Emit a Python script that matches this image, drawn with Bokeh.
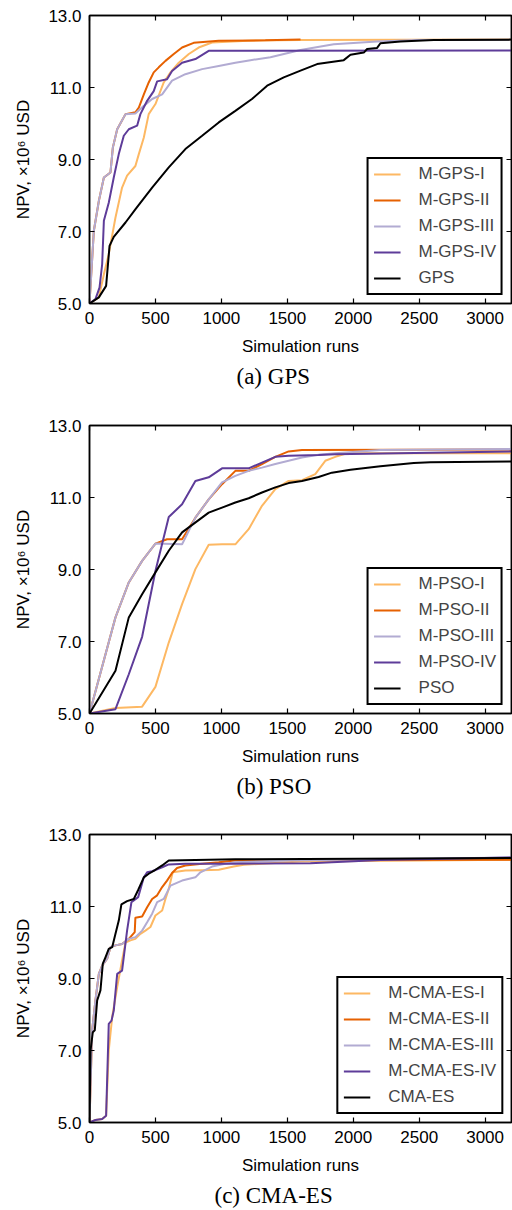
from bokeh.plotting import figure
from bokeh.models import (Legend, LegendItem, Title, LinearAxis, FixedTicker,
                          Range1d, NumeralTickFormatter, CustomLabelingPolicy)
from bokeh.layouts import column
from bokeh.embed import file_html
from bokeh.resources import INLINE

# ---------------- data ----------------
x_ticks = [0, 500, 1000, 1500, 2000, 2500, 3000]
y_ticks = [5.0, 7.0, 9.0, 11.0, 13.0]

# (a) GPS
gps1_x = [0, 71, 109, 146, 197, 247, 285, 348, 374, 412, 449, 500, 563, 614, 677, 753, 828, 929, 1200, 1600, 3200]
gps1_y = [5.0, 5.17, 5.81, 6.37, 7.39, 8.22, 8.55, 8.82, 9.15, 9.61, 10.26, 10.54, 11.14, 11.42, 11.69, 11.93, 12.11, 12.25, 12.3, 12.32, 12.33]
gps2_x = [0, 33, 71, 109, 159, 177, 210, 273, 348, 374, 412, 449, 487, 525, 576, 639, 702, 790, 980, 1333, 1600]
gps2_y = [5.0, 7.02, 7.85, 8.5, 8.64, 9.33, 9.84, 10.26, 10.31, 10.44, 10.81, 11.14, 11.42, 11.56, 11.74, 11.93, 12.11, 12.24, 12.3, 12.31, 12.33]
gps3_x = [0, 33, 71, 109, 159, 177, 210, 273, 348, 412, 475, 551, 626, 727, 854, 980, 1106, 1221, 1372, 1600, 1852, 2181, 2484, 3200]
gps3_y = [5.0, 7.02, 7.85, 8.5, 8.64, 9.33, 9.84, 10.26, 10.28, 10.49, 10.68, 10.81, 11.19, 11.37, 11.51, 11.6, 11.69, 11.76, 11.84, 12.04, 12.2, 12.28, 12.32, 12.33]
gps4_x = [0, 45, 76, 96, 109, 146, 184, 222, 260, 298, 361, 386, 437, 487, 513, 588, 626, 702, 803, 904, 3200]
gps4_y = [5.0, 5.12, 5.44, 6.09, 7.3, 7.8, 8.5, 9.15, 9.66, 9.84, 9.94, 10.26, 10.63, 10.9, 11.17, 11.23, 11.46, 11.69, 11.79, 12.02, 12.03]
gps_x = [0, 71, 126, 152, 184, 273, 349, 475, 601, 727, 854, 980, 1106, 1232, 1347, 1473, 1600, 1726, 1928, 1979, 2080, 2105, 2181, 2206, 2358, 2611, 3200]
gps_y = [5.0, 5.17, 5.49, 6.6, 6.85, 7.25, 7.62, 8.22, 8.78, 9.29, 9.66, 10.03, 10.35, 10.68, 11.05, 11.28, 11.47, 11.65, 11.76, 11.91, 11.97, 12.07, 12.1, 12.23, 12.28, 12.32, 12.33]

# (b) PSO
pso1_x = [0, 197, 399, 500, 601, 702, 803, 904, 1005, 1106, 1207, 1308, 1409, 1510, 1611, 1712, 1788, 1864, 1953, 3200]
pso1_y = [5.0, 5.15, 5.19, 5.74, 6.97, 8.04, 9.01, 9.69, 9.70, 9.70, 10.12, 10.77, 11.23, 11.46, 11.48, 11.65, 12.02, 12.13, 12.23, 12.23]
pso2_x = [0, 197, 298, 399, 500, 588, 702, 803, 904, 1005, 1106, 1207, 1308, 1409, 1510, 1611, 3200]
pso2_y = [5.0, 7.67, 8.64, 9.24, 9.72, 9.84, 9.84, 10.44, 10.95, 11.37, 11.74, 11.74, 11.93, 12.13, 12.28, 12.32, 12.33]
pso3_x = [0, 197, 298, 399, 500, 702, 803, 904, 1005, 1106, 1207, 1308, 1409, 1510, 1611, 1737, 1864, 2206, 3200]
pso3_y = [5.0, 7.67, 8.64, 9.24, 9.72, 9.70, 10.44, 10.95, 11.42, 11.6, 11.74, 11.83, 11.93, 12.02, 12.11, 12.19, 12.23, 12.32, 12.35]
pso4_x = [0, 197, 298, 399, 500, 601, 702, 803, 904, 1005, 1106, 1207, 1308, 1409, 1510, 1737, 1864, 3200]
pso4_y = [5.0, 5.12, 6.09, 7.13, 8.96, 10.46, 10.81, 11.46, 11.56, 11.81, 11.81, 11.81, 11.97, 12.13, 12.16, 12.18, 12.2, 12.28]
pso_x = [0, 197, 298, 399, 500, 601, 702, 904, 1005, 1106, 1207, 1308, 1409, 1510, 1611, 1737, 1838, 1979, 2206, 2459, 2585, 3200]
pso_y = [5.0, 6.19, 7.67, 8.31, 8.92, 9.52, 10.03, 10.58, 10.72, 10.86, 10.98, 11.14, 11.28, 11.4, 11.46, 11.57, 11.69, 11.77, 11.87, 11.96, 11.98, 12.0]

# (c) CMA-ES
cma1_x = [0, 45, 96, 126, 146, 172, 210, 247, 273, 311, 348, 386, 424, 462, 500, 551, 576, 601, 631, 727, 854, 980, 1094, 1170, 1600, 3200]
cma1_y = [5.0, 5.07, 5.1, 5.19, 7.0, 7.93, 8.76, 9.5, 10.0, 10.06, 10.1, 10.24, 10.33, 10.43, 10.75, 10.89, 11.21, 11.49, 11.95, 12.0, 12.01, 12.02, 12.11, 12.16, 12.25, 12.3]
cma2_x = [0, 20, 45, 71, 96, 134, 159, 197, 247, 298, 343, 348, 399, 437, 475, 513, 551, 588, 626, 664, 727, 854, 980, 1106, 1675, 3200]
cma2_y = [5.0, 7.56, 8.39, 9.13, 9.36, 9.55, 9.87, 9.92, 9.96, 10.1, 10.29, 10.69, 10.72, 10.98, 11.21, 11.31, 11.54, 11.72, 11.93, 12.07, 12.14, 12.19, 12.23, 12.28, 12.29, 12.3]
cma3_x = [0, 20, 45, 71, 96, 134, 159, 197, 247, 298, 348, 399, 437, 475, 513, 563, 614, 702, 803, 841, 929, 1030, 1106, 1500, 3200]
cma3_y = [5.0, 7.56, 8.39, 9.13, 9.36, 9.55, 9.87, 9.92, 9.96, 10.1, 10.15, 10.33, 10.56, 10.8, 11.12, 11.21, 11.58, 11.72, 11.81, 11.95, 12.11, 12.19, 12.23, 12.28, 12.36]
cma4_x = [0, 45, 96, 126, 146, 167, 184, 210, 247, 285, 318, 369, 412, 437, 475, 551, 601, 727, 1106, 1675, 2206, 3200]
cma4_y = [5.0, 5.07, 5.1, 5.19, 7.74, 7.83, 8.11, 9.13, 9.22, 10.33, 11.12, 11.26, 11.81, 11.95, 11.98, 12.09, 12.17, 12.19, 12.19, 12.2, 12.29, 12.36]
cma_x = [0, 8, 25, 40, 58, 83, 101, 121, 146, 172, 197, 222, 242, 285, 336, 369, 412, 449, 500, 551, 601, 1106, 3200]
cma_y = [5.0, 7.0, 7.51, 7.56, 8.39, 8.67, 9.41, 9.59, 9.82, 9.87, 10.24, 10.61, 11.06, 11.15, 11.21, 11.46, 11.81, 11.91, 12.02, 12.14, 12.28, 12.31, 12.35]

colors = ["#fdb863", "#e66101", "#b2abd2", "#5e3c99", "#000000"]

SANS = "Liberation Sans"
SERIF = "Liberation Serif"


def make_panel(series, names, caption, top, bottom, cap_offset):
    p = figure(frame_width=422, frame_height=288, output_backend="svg",
               toolbar_location=None, x_range=Range1d(0, 3200), y_range=Range1d(5, 13),
               min_border_left=89, min_border_right=1, min_border_top=top,
               min_border_bottom=bottom, background_fill_color="white",
               border_fill_color="white")
    p.xgrid.visible = False
    p.ygrid.visible = False
    p.outline_line_color = "black"
    p.outline_line_width = 1.5
    p.outline_line_alpha = 1.0

    items = []
    for (xs, ys), name, c in zip(series, names, colors):
        r = p.line(xs, ys, line_color=c, line_width=2)
        items.append(LegendItem(label=name, renderers=[r]))

    for ax in (p.xaxis[0], p.yaxis[0]):
        ax.major_tick_in = 5
        ax.major_tick_out = 0
        ax.minor_tick_in = 0
        ax.minor_tick_out = 0
        ax.axis_line_color = "black"
        ax.axis_line_width = 1.5
        ax.major_tick_line_width = 1.2
        ax.major_label_text_font = SANS
        ax.major_label_text_font_size = "17px"
        ax.major_label_text_color = "black"
        ax.axis_label_text_font = SANS
        ax.axis_label_text_font_size = "17px"
        ax.axis_label_text_font_style = "normal"
        ax.axis_label_text_color = "black"
        ax.major_label_standoff = 8

    p.xaxis[0].ticker = FixedTicker(ticks=x_ticks)
    p.yaxis[0].ticker = FixedTicker(ticks=y_ticks)
    p.yaxis[0].formatter = NumeralTickFormatter(format="0.0")
    p.xaxis[0].axis_label = "Simulation runs"
    p.yaxis[0].axis_label = "NPV, ×10⁶ USD"
    p.xaxis[0].axis_label_standoff = 10
    p.yaxis[0].axis_label_standoff = 12

    # mirrored ticks on top and right (no labels)
    hide = CustomLabelingPolicy(code="return new Set()")
    for side, tk in (("above", x_ticks), ("right", y_ticks)):
        ax = LinearAxis(ticker=FixedTicker(ticks=tk), major_tick_in=5, major_tick_out=0,
                        minor_tick_in=0, minor_tick_out=0, major_label_text_font_size="0px",
                        major_label_policy=hide,
                        major_label_standoff=0, axis_line_color="black", axis_line_width=1.5,
                        major_tick_line_width=1.2)
        p.add_layout(ax, side)

    legend = Legend(items=items, location="bottom_right", margin=8,
                    border_line_color="black", border_line_width=2, border_line_alpha=1.0,
                    background_fill_color="white", background_fill_alpha=1.0,
                    label_text_font=SANS, label_text_font_size="17px",
                    glyph_width=27, glyph_height=20, label_height=20, spacing=6,
                    label_standoff=18, padding=5)
    p.add_layout(legend)

    p.add_layout(Title(text=caption, align="left", text_font=SERIF,
                       text_font_size="23px", text_font_style="normal",
                       text_color="black", offset=cap_offset, standoff=6), "below")
    return p


p1 = make_panel([(gps1_x, gps1_y), (gps2_x, gps2_y), (gps3_x, gps3_y), (gps4_x, gps4_y), (gps_x, gps_y)],
                ["M-GPS-I", "M-GPS-II", "M-GPS-III", "M-GPS-IV", "GPS"], "(a) GPS", 15, 107, 147)
p2 = make_panel([(pso1_x, pso1_y), (pso2_x, pso2_y), (pso3_x, pso3_y), (pso4_x, pso4_y), (pso_x, pso_y)],
                ["M-PSO-I", "M-PSO-II", "M-PSO-III", "M-PSO-IV", "PSO"], "(b) PSO", 15, 107, 147)
p3 = make_panel([(cma1_x, cma1_y), (cma2_x, cma2_y), (cma3_x, cma3_y), (cma4_x, cma4_y), (cma_x, cma_y)],
                ["M-CMA-ES-I", "M-CMA-ES-II", "M-CMA-ES-III", "M-CMA-ES-IV", "CMA-ES"], "(c) CMA-ES", 14, 88, 125)

layout = column(p1, p2, p3, spacing=0)
open("out.html", "w").write(file_html(layout, INLINE))
